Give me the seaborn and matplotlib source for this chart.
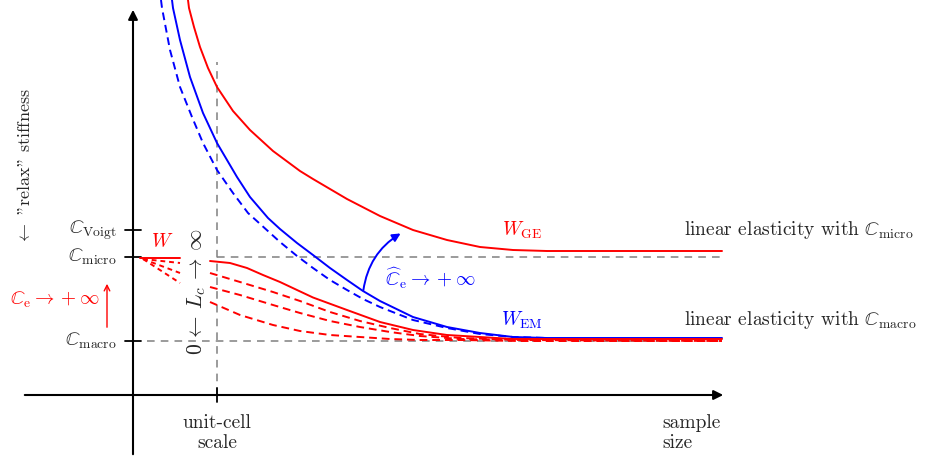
import matplotlib
matplotlib.use("Agg")
import matplotlib.pyplot as plt
import seaborn as sns

# --- curve samples (x = size, y = stiffness) ---
ge_x = [55, 56, 61, 67, 75, 84, 100, 117, 140, 167, 180, 197, 214, 247, 280, 314, 347,
        380, 414, 589]
ge_y = [395, 387, 368, 348, 327, 308, 284, 265, 244, 224, 216, 206, 196, 179, 165, 155,
        148, 145, 144, 144]

em_x = [39, 40, 47, 57, 70, 84, 104, 117, 135, 147, 164, 180, 197, 214, 230, 247, 280,
        314, 347, 380, 414, 589]
em_y = [395, 387, 355, 318, 282, 252, 218, 198, 177, 166, 152, 140, 127, 115, 104, 94,
        78, 68, 62, 58, 57, 57]

em_dash_x = [28, 29, 37, 47, 59, 70, 84, 100, 115, 147, 164, 180, 197, 214, 230, 247,
             280, 314, 347, 380, 414]
em_dash_y = [395, 387, 345, 308, 278, 252, 225, 202, 182, 153, 139, 127, 115, 105, 96,
             88, 75, 67, 61, 58, 57]

w_x = [77, 97, 114, 130, 147, 164, 180, 214, 247, 280, 314, 347, 380, 589]
w_y = [134, 132, 127, 120, 113, 105, 97.5, 85, 73, 65, 60, 58, 56, 56]

lc_x = [77, 107, 140, 167, 197, 227, 257, 287, 327, 387, 589]
lc_curves = [
    [122, 113, 103, 94, 83, 74, 67, 61, 57, 55, 54],
    [108, 100, 90, 82, 74, 68, 63, 59, 56, 55, 54],
    [93, 80, 70, 64, 60, 58, 56, 55, 55, 54, 54],
]

# small W branch near zero size
w0_x = [7, 47]
w0_y = [137, 137]
w0_ends = [132, 122, 112]

# reference levels
c_macro, c_micro, c_voigt = 54, 138, 165
unit_cell = 84
x_end = 589

sns.set_theme(style="white")
plt.rcParams["mathtext.fontset"] = "cm"
plt.rcParams["font.family"] = "serif"
plt.rcParams["font.serif"] = ["cmr10", "DejaVu Serif"]
plt.rcParams["axes.unicode_minus"] = False

fig = plt.figure(figsize=(9.26, 4.57), dpi=100)
ax = fig.add_axes([0, 0, 1, 1])
ax.set_xlim(-133, 793)
ax.set_ylim(-62, 395)
ax.axis("off")

red, blue, grey = "#ff0000", "#0000ff", "#808080"
fs = 14

# guide lines
gd = dict(color=grey, lw=1.1, dashes=(5, 4))
ax.plot([unit_cell, unit_cell], [0, 333], **gd)
ax.plot([unit_cell, x_end], [c_micro, c_micro], **gd)
ax.plot([14, x_end], [c_macro, c_macro], **gd)

# axes with arrows
ax.annotate("", xy=(0, 388), xytext=(0, -62),
            arrowprops=dict(arrowstyle="-|>", color="black", lw=1.5, mutation_scale=14))
ax.annotate("", xy=(593, 0), xytext=(-111, 0),
            arrowprops=dict(arrowstyle="-|>", color="black", lw=1.5, mutation_scale=14))
for lev in [c_macro, c_micro, c_voigt]:
    ax.plot([-8, 8], [lev, lev], color="black", lw=1.3)
ax.plot([unit_cell, unit_cell], [-7, 7], color="black", lw=1.3)

# curves
line = dict(sort=False, estimator=None, lw=1.4, ax=ax)
sns.lineplot(x=ge_x, y=ge_y, color=red, **line)
sns.lineplot(x=em_x, y=em_y, color=blue, **line)
sns.lineplot(x=em_dash_x, y=em_dash_y, color=blue, linestyle=(0, (4, 2.5)), **line)
for cy in lc_curves:
    sns.lineplot(x=lc_x, y=cy, color=red, linestyle=(0, (4, 2.5)), **line)
sns.lineplot(x=w_x, y=w_y, color=red, **line)
sns.lineplot(x=w0_x, y=w0_y, color=red, **line)
for ye in w0_ends:
    sns.lineplot(x=[w0_x[0] + 3, w0_x[1]], y=[w0_y[0] - 1, ye], color=red,
                 linestyle=(0, (2.5, 2)), **line)

# arrows
ax.annotate("", xy=(270, 163), xytext=(230, 102),
            arrowprops=dict(arrowstyle="-|>", color=blue, lw=1.4, mutation_scale=12,
                            connectionstyle="arc3,rad=-0.25"))
ax.annotate("", xy=(-26, 114), xytext=(-26, 65),
            arrowprops=dict(arrowstyle="->", color=red, lw=1.0, mutation_scale=10))

# labels
ax.text(-16, c_voigt, r"$\mathbb{C}_{\mathrm{Voigt}}$", ha="right", va="center", fontsize=fs)
ax.text(-16, c_micro, r"$\mathbb{C}_{\mathrm{micro}}$", ha="right", va="center", fontsize=fs)
ax.text(-16, c_macro, r"$\mathbb{C}_{\mathrm{macro}}$", ha="right", va="center", fontsize=fs)
ax.text(-78, 95, r"$\mathbb{C}_{\mathrm{e}}\rightarrow+\infty$", ha="center", va="center",
        fontsize=fs, color=red)
ax.text(29, 153, r"$W$", ha="center", va="center", fontsize=fs, color=red)
ax.text(389, 165, r"$W_{\mathrm{GE}}$", ha="center", va="center", fontsize=fs, color=red)
ax.text(389, 75, r"$W_{\mathrm{EM}}$", ha="center", va="center", fontsize=fs, color=blue)
ax.text(297, 117, r"$\widehat{\mathbb{C}}_{\mathrm{e}}\rightarrow+\infty$", ha="center",
        va="center", fontsize=fs, color=blue)
ax.text(551, 165, r"linear elasticity with $\mathbb{C}_{\mathrm{micro}}$", ha="left",
        va="center", fontsize=fs)
ax.text(551, 75, r"linear elasticity with $\mathbb{C}_{\mathrm{macro}}$", ha="left",
        va="center", fontsize=fs)
ax.text(529, -38, "sample\nsize", ha="left", va="center", fontsize=fs, linespacing=1.15)
ax.text(unit_cell, -38, "unit-cell\nscale", ha="center", va="center", fontsize=fs,
        linespacing=1.15)
ax.text(64, 103, r"$0\,\leftarrow\,L_c\,\rightarrow\,\infty$", ha="center", va="center",
        fontsize=fs + 1.5, rotation=90)
ax.text(-108, 228, r'$\leftarrow$ "relax" stiffness', ha="center", va="center",
        fontsize=fs - 1, rotation=90)

fig.savefig("out.png", dpi=100)
